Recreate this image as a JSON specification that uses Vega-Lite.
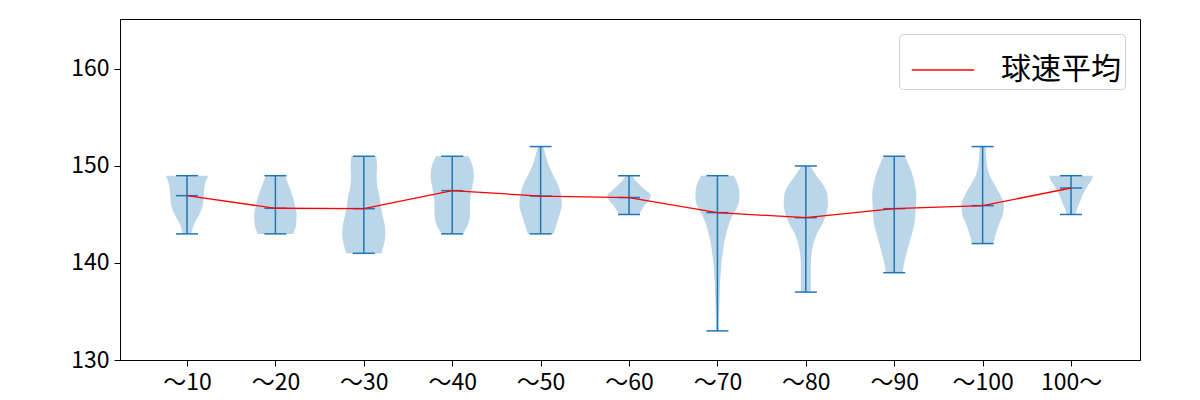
{
  "$schema": "https://vega.github.io/schema/vega-lite/v6.json",
  "autosize": {"type": "none"},
  "width": 1020,
  "height": 341,
  "padding": {"left": 120, "top": 19, "right": 60, "bottom": 40},
  "background": "white",
  "config": {
    "view": {"stroke": "#000000", "strokeWidth": 1},
    "font": "Noto Sans CJK JP",
    "axis": {
      "grid": false,
      "domainColor": "#000000",
      "tickColor": "#000000",
      "labelColor": "#000000",
      "labelFont": "Noto Sans CJK JP",
      "labelFontSize": 23,
      "tickSize": 6,
      "title": null
    }
  },
  "datasets": {
    "violin": [
      {"p": 1, "v": 143, "w": 0.05}, {"p": 1, "v": 144, "w": 0.08}, {"p": 1, "v": 145, "w": 0.14}, {"p": 1, "v": 146, "w": 0.18}, {"p": 1, "v": 147, "w": 0.19}, {"p": 1, "v": 148, "w": 0.2}, {"p": 1, "v": 149, "w": 0.24},
      {"p": 2, "v": 143, "w": 0.2}, {"p": 2, "v": 144, "w": 0.235}, {"p": 2, "v": 145, "w": 0.24}, {"p": 2, "v": 146, "w": 0.22}, {"p": 2, "v": 147, "w": 0.19}, {"p": 2, "v": 148, "w": 0.15}, {"p": 2, "v": 149, "w": 0.11},
      {"p": 3, "v": 141, "w": 0.2}, {"p": 3, "v": 142, "w": 0.23}, {"p": 3, "v": 143, "w": 0.245}, {"p": 3, "v": 144, "w": 0.235}, {"p": 3, "v": 145, "w": 0.21}, {"p": 3, "v": 146, "w": 0.19}, {"p": 3, "v": 147, "w": 0.175}, {"p": 3, "v": 148, "w": 0.15}, {"p": 3, "v": 149, "w": 0.145}, {"p": 3, "v": 150, "w": 0.15}, {"p": 3, "v": 151, "w": 0.14},
      {"p": 4, "v": 143, "w": 0.12}, {"p": 4, "v": 144, "w": 0.18}, {"p": 4, "v": 145, "w": 0.2}, {"p": 4, "v": 146, "w": 0.2}, {"p": 4, "v": 147, "w": 0.21}, {"p": 4, "v": 148, "w": 0.23}, {"p": 4, "v": 149, "w": 0.245}, {"p": 4, "v": 150, "w": 0.23}, {"p": 4, "v": 151, "w": 0.185},
      {"p": 5, "v": 143, "w": 0.145}, {"p": 5, "v": 144, "w": 0.18}, {"p": 5, "v": 145, "w": 0.215}, {"p": 5, "v": 146, "w": 0.24}, {"p": 5, "v": 147, "w": 0.23}, {"p": 5, "v": 148, "w": 0.2}, {"p": 5, "v": 149, "w": 0.145}, {"p": 5, "v": 150, "w": 0.095}, {"p": 5, "v": 151, "w": 0.06}, {"p": 5, "v": 152, "w": 0.03},
      {"p": 6, "v": 145, "w": 0.11}, {"p": 6, "v": 145.5, "w": 0.145}, {"p": 6, "v": 146, "w": 0.18}, {"p": 6, "v": 146.5, "w": 0.23}, {"p": 6, "v": 147, "w": 0.245}, {"p": 6, "v": 147.5, "w": 0.19}, {"p": 6, "v": 148, "w": 0.13}, {"p": 6, "v": 148.5, "w": 0.075}, {"p": 6, "v": 149, "w": 0.04},
      {"p": 7, "v": 133, "w": 0.015}, {"p": 7, "v": 134, "w": 0.015}, {"p": 7, "v": 135, "w": 0.02}, {"p": 7, "v": 136, "w": 0.023}, {"p": 7, "v": 137, "w": 0.027}, {"p": 7, "v": 138, "w": 0.03}, {"p": 7, "v": 139, "w": 0.038}, {"p": 7, "v": 140, "w": 0.045}, {"p": 7, "v": 141, "w": 0.06}, {"p": 7, "v": 142, "w": 0.075}, {"p": 7, "v": 143, "w": 0.1}, {"p": 7, "v": 144, "w": 0.13}, {"p": 7, "v": 145, "w": 0.175}, {"p": 7, "v": 145.5, "w": 0.21}, {"p": 7, "v": 146, "w": 0.235}, {"p": 7, "v": 147, "w": 0.25}, {"p": 7, "v": 148, "w": 0.235}, {"p": 7, "v": 149, "w": 0.185},
      {"p": 8, "v": 137, "w": 0.057}, {"p": 8, "v": 138, "w": 0.057}, {"p": 8, "v": 139, "w": 0.057}, {"p": 8, "v": 140, "w": 0.057}, {"p": 8, "v": 141, "w": 0.065}, {"p": 8, "v": 142, "w": 0.087}, {"p": 8, "v": 143, "w": 0.125}, {"p": 8, "v": 144, "w": 0.185}, {"p": 8, "v": 145, "w": 0.23}, {"p": 8, "v": 146, "w": 0.25}, {"p": 8, "v": 147, "w": 0.245}, {"p": 8, "v": 148, "w": 0.2}, {"p": 8, "v": 149, "w": 0.12}, {"p": 8, "v": 150, "w": 0.05},
      {"p": 9, "v": 139, "w": 0.095}, {"p": 9, "v": 140, "w": 0.113}, {"p": 9, "v": 141, "w": 0.14}, {"p": 9, "v": 142, "w": 0.17}, {"p": 9, "v": 143, "w": 0.2}, {"p": 9, "v": 144, "w": 0.227}, {"p": 9, "v": 145, "w": 0.24}, {"p": 9, "v": 146, "w": 0.245}, {"p": 9, "v": 147, "w": 0.25}, {"p": 9, "v": 148, "w": 0.235}, {"p": 9, "v": 149, "w": 0.21}, {"p": 9, "v": 150, "w": 0.17}, {"p": 9, "v": 151, "w": 0.12},
      {"p": 10, "v": 142, "w": 0.12}, {"p": 10, "v": 143, "w": 0.15}, {"p": 10, "v": 144, "w": 0.185}, {"p": 10, "v": 145, "w": 0.23}, {"p": 10, "v": 146, "w": 0.24}, {"p": 10, "v": 147, "w": 0.2}, {"p": 10, "v": 148, "w": 0.14}, {"p": 10, "v": 149, "w": 0.08}, {"p": 10, "v": 150, "w": 0.05}, {"p": 10, "v": 151, "w": 0.04}, {"p": 10, "v": 152, "w": 0.034},
      {"p": 11, "v": 145, "w": 0.05}, {"p": 11, "v": 145.5, "w": 0.064}, {"p": 11, "v": 146, "w": 0.087}, {"p": 11, "v": 146.5, "w": 0.11}, {"p": 11, "v": 147, "w": 0.13}, {"p": 11, "v": 147.5, "w": 0.16}, {"p": 11, "v": 148, "w": 0.19}, {"p": 11, "v": 148.5, "w": 0.23}, {"p": 11, "v": 149, "w": 0.245}
    ],
    "stats": [
      {"p": 1, "label": "〜10", "lo": 143, "hi": 149, "mean": 146.94},
      {"p": 2, "label": "〜20", "lo": 143, "hi": 149, "mean": 145.64},
      {"p": 3, "label": "〜30", "lo": 141, "hi": 151, "mean": 145.6},
      {"p": 4, "label": "〜40", "lo": 143, "hi": 151, "mean": 147.46},
      {"p": 5, "label": "〜50", "lo": 143, "hi": 152, "mean": 146.9},
      {"p": 6, "label": "〜60", "lo": 145, "hi": 149, "mean": 146.74},
      {"p": 7, "label": "〜70", "lo": 133, "hi": 149, "mean": 145.19},
      {"p": 8, "label": "〜80", "lo": 137, "hi": 150, "mean": 144.67},
      {"p": 9, "label": "〜90", "lo": 139, "hi": 151, "mean": 145.6},
      {"p": 10, "label": "〜100", "lo": 142, "hi": 152, "mean": 145.91},
      {"p": 11, "label": "100〜", "lo": 145, "hi": 149, "mean": 147.73}
    ]
  },
  "layer": [
    {
      "data": {"name": "violin"},
      "transform": [
        {"calculate": "datum.p - datum.w", "as": "left"},
        {"calculate": "datum.p + datum.w", "as": "right"}
      ],
      "mark": {"type": "area", "orient": "horizontal", "color": "#1f77b4", "opacity": 0.3, "interpolate": "monotone"},
      "encoding": {
        "y": {"field": "v", "type": "quantitative", "scale": {"domain": [130, 165.15], "nice": false, "zero": false},
          "axis": {"values": [130, 140, 150, 160], "labelPadding": 5}},
        "x": {"field": "left", "type": "quantitative", "scale": {"domain": [0.242, 11.78], "nice": false, "zero": false},
          "axis": {"values": [1, 2, 3, 4, 5, 6, 7, 8, 9, 10, 11], "labelPadding": 5,
            "labelExpr": "['〜10','〜20','〜30','〜40','〜50','〜60','〜70','〜80','〜90','〜100','100〜'][datum.value - 1]"}},
        "x2": {"field": "right"},
        "detail": {"field": "p"}
      }
    },
    {
      "data": {"name": "stats"},
      "mark": {"type": "rule", "color": "#1f77b4", "strokeWidth": 1.5},
      "encoding": {
        "x": {"field": "p", "type": "quantitative"},
        "y": {"field": "lo", "type": "quantitative"},
        "y2": {"field": "hi"}
      }
    },
    {
      "data": {"name": "stats"},
      "mark": {"type": "tick", "orient": "horizontal", "color": "#1f77b4", "size": 22, "thickness": 1.5, "opacity": 1},
      "encoding": {
        "x": {"field": "p", "type": "quantitative"},
        "y": {"field": "lo", "type": "quantitative"}
      }
    },
    {
      "data": {"name": "stats"},
      "mark": {"type": "tick", "orient": "horizontal", "color": "#1f77b4", "size": 22, "thickness": 1.5, "opacity": 1},
      "encoding": {
        "x": {"field": "p", "type": "quantitative"},
        "y": {"field": "hi", "type": "quantitative"}
      }
    },
    {
      "data": {"name": "stats"},
      "mark": {"type": "tick", "orient": "horizontal", "color": "#1f77b4", "size": 22, "thickness": 1.5, "opacity": 1},
      "encoding": {
        "x": {"field": "p", "type": "quantitative"},
        "y": {"field": "mean", "type": "quantitative"}
      }
    },
    {
      "data": {"name": "stats"},
      "mark": {"type": "line", "strokeWidth": 1.3},
      "encoding": {
        "x": {"field": "p", "type": "quantitative"},
        "y": {"field": "mean", "type": "quantitative"},
        "color": {
          "datum": "球速平均",
          "type": "nominal",
          "scale": {"range": ["#ff0000"]},
          "legend": {
            "title": null,
            "orient": "top-right",
            "offset": 15,
            "padding": 4,
            "strokeColor": "#d0d0d0",
            "fillColor": "#ffffff",
            "cornerRadius": 4,
            "symbolType": "stroke",
            "symbolSize": 3900,
            "symbolOffset": 8,
            "symbolStrokeWidth": 1.5,
            "labelFontSize": 30,
            "labelFont": "Noto Sans CJK JP",
            "labelColor": "#000000",
            "labelOffset": 26
          }
        }
      }
    }
  ]
}
